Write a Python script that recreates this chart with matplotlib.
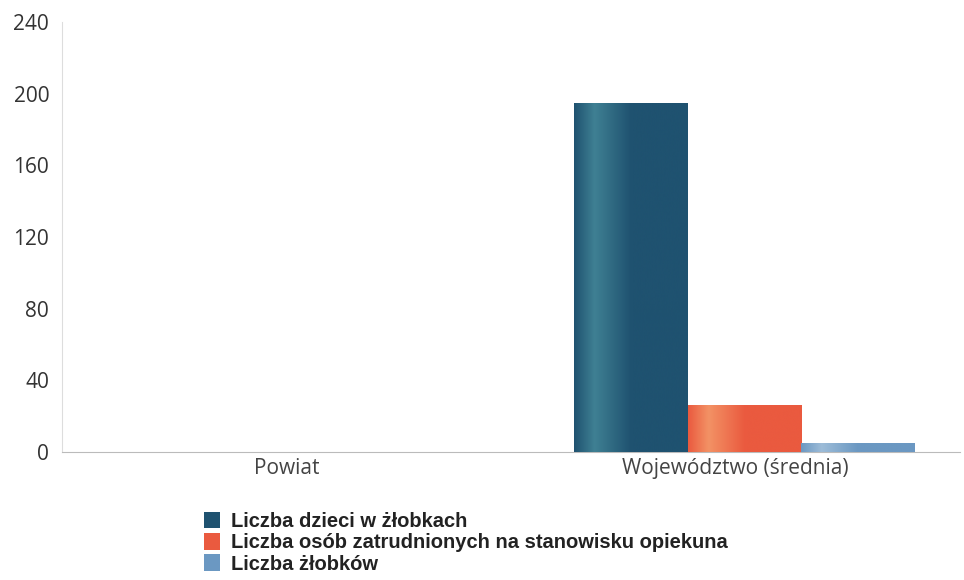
import numpy as np
import matplotlib
matplotlib.use("Agg")
import matplotlib.pyplot as plt
from matplotlib.colors import LinearSegmentedColormap

categories = ["Powiat", "Województwo (średnia)"]
series_names = ["Liczba dzieci w żłobkach",
                "Liczba osób zatrudnionych na stanowisku opiekuna",
                "Liczba żłobków"]
dzieci = [0, 195]
opiekunowie = [0, 26]
zlobki = [0, 5]
yticks = [0, 40, 80, 120, 160, 200, 240]

colors = ["#1f5270", "#ea5a3f", "#6b98c2"]
light = ["#3f8093", "#f39265", "#9dbcd8"]

fig = plt.figure(figsize=(9.64, 5.8), dpi=100)
ax = fig.add_axes([0.064, 0.2207, 0.932, 0.7413])

x = np.arange(len(categories))
w = 0.253
offsets = [-w, 0, w]
series = [dzieci, opiekunowie, zlobki]
handles = []
for s, vals, off, c, lc, name in zip(range(3), series, offsets, colors, light, series_names):
    bars = ax.bar(x + off + 0.02, vals, width=w, color=c, label=name, zorder=2, linewidth=0)
    handles.append(bars)
    cmap = LinearSegmentedColormap.from_list(
        "g%d" % s, [(0, c), (0.18, lc), (0.5, c), (1, c)], N=256)
    grad = np.linspace(0, 1, 256).reshape(1, -1)
    for p in bars.patches:
        if p.get_height() <= 0:
            continue
        x0, y0 = p.get_x(), p.get_y()
        im = ax.imshow(grad, cmap=cmap, aspect="auto",
                       extent=[x0, x0 + p.get_width(), y0, y0 + p.get_height()],
                       zorder=3, interpolation="bicubic")
        im.set_clip_path(p)

ax.set_xlim(-0.5, 1.5)
ax.set_ylim(0, 240)
ax.set_yticks(yticks)
ax.set_yticklabels([str(t) for t in yticks], fontsize=15, color="#333333", family="Open Sans")
ax.set_xticks(x)
ax.set_xticklabels(categories, fontsize=15, color="#444444", family="Open Sans")
ax.tick_params(axis="y", length=0, pad=9)
ax.tick_params(axis="x", length=0, pad=4)
for side in ["top", "right"]:
    ax.spines[side].set_visible(False)
ax.spines["left"].set_color("#dddddd")
ax.spines["bottom"].set_color("#bbbbbb")
ax.set_facecolor("white")

leg = fig.legend(handles=handles, labels=series_names, loc="upper left",
                 bbox_to_anchor=(0.212, 0.118), frameon=False,
                 prop={"family": "Liberation Sans", "size": 14.5, "weight": "bold"},
                 handlelength=0.8, handleheight=0.9, handletextpad=0.5,
                 labelspacing=0.1, borderpad=0, borderaxespad=0)
for t in leg.get_texts():
    t.set_color("#222222")

fig.savefig("out.png", dpi=100, facecolor="white")
